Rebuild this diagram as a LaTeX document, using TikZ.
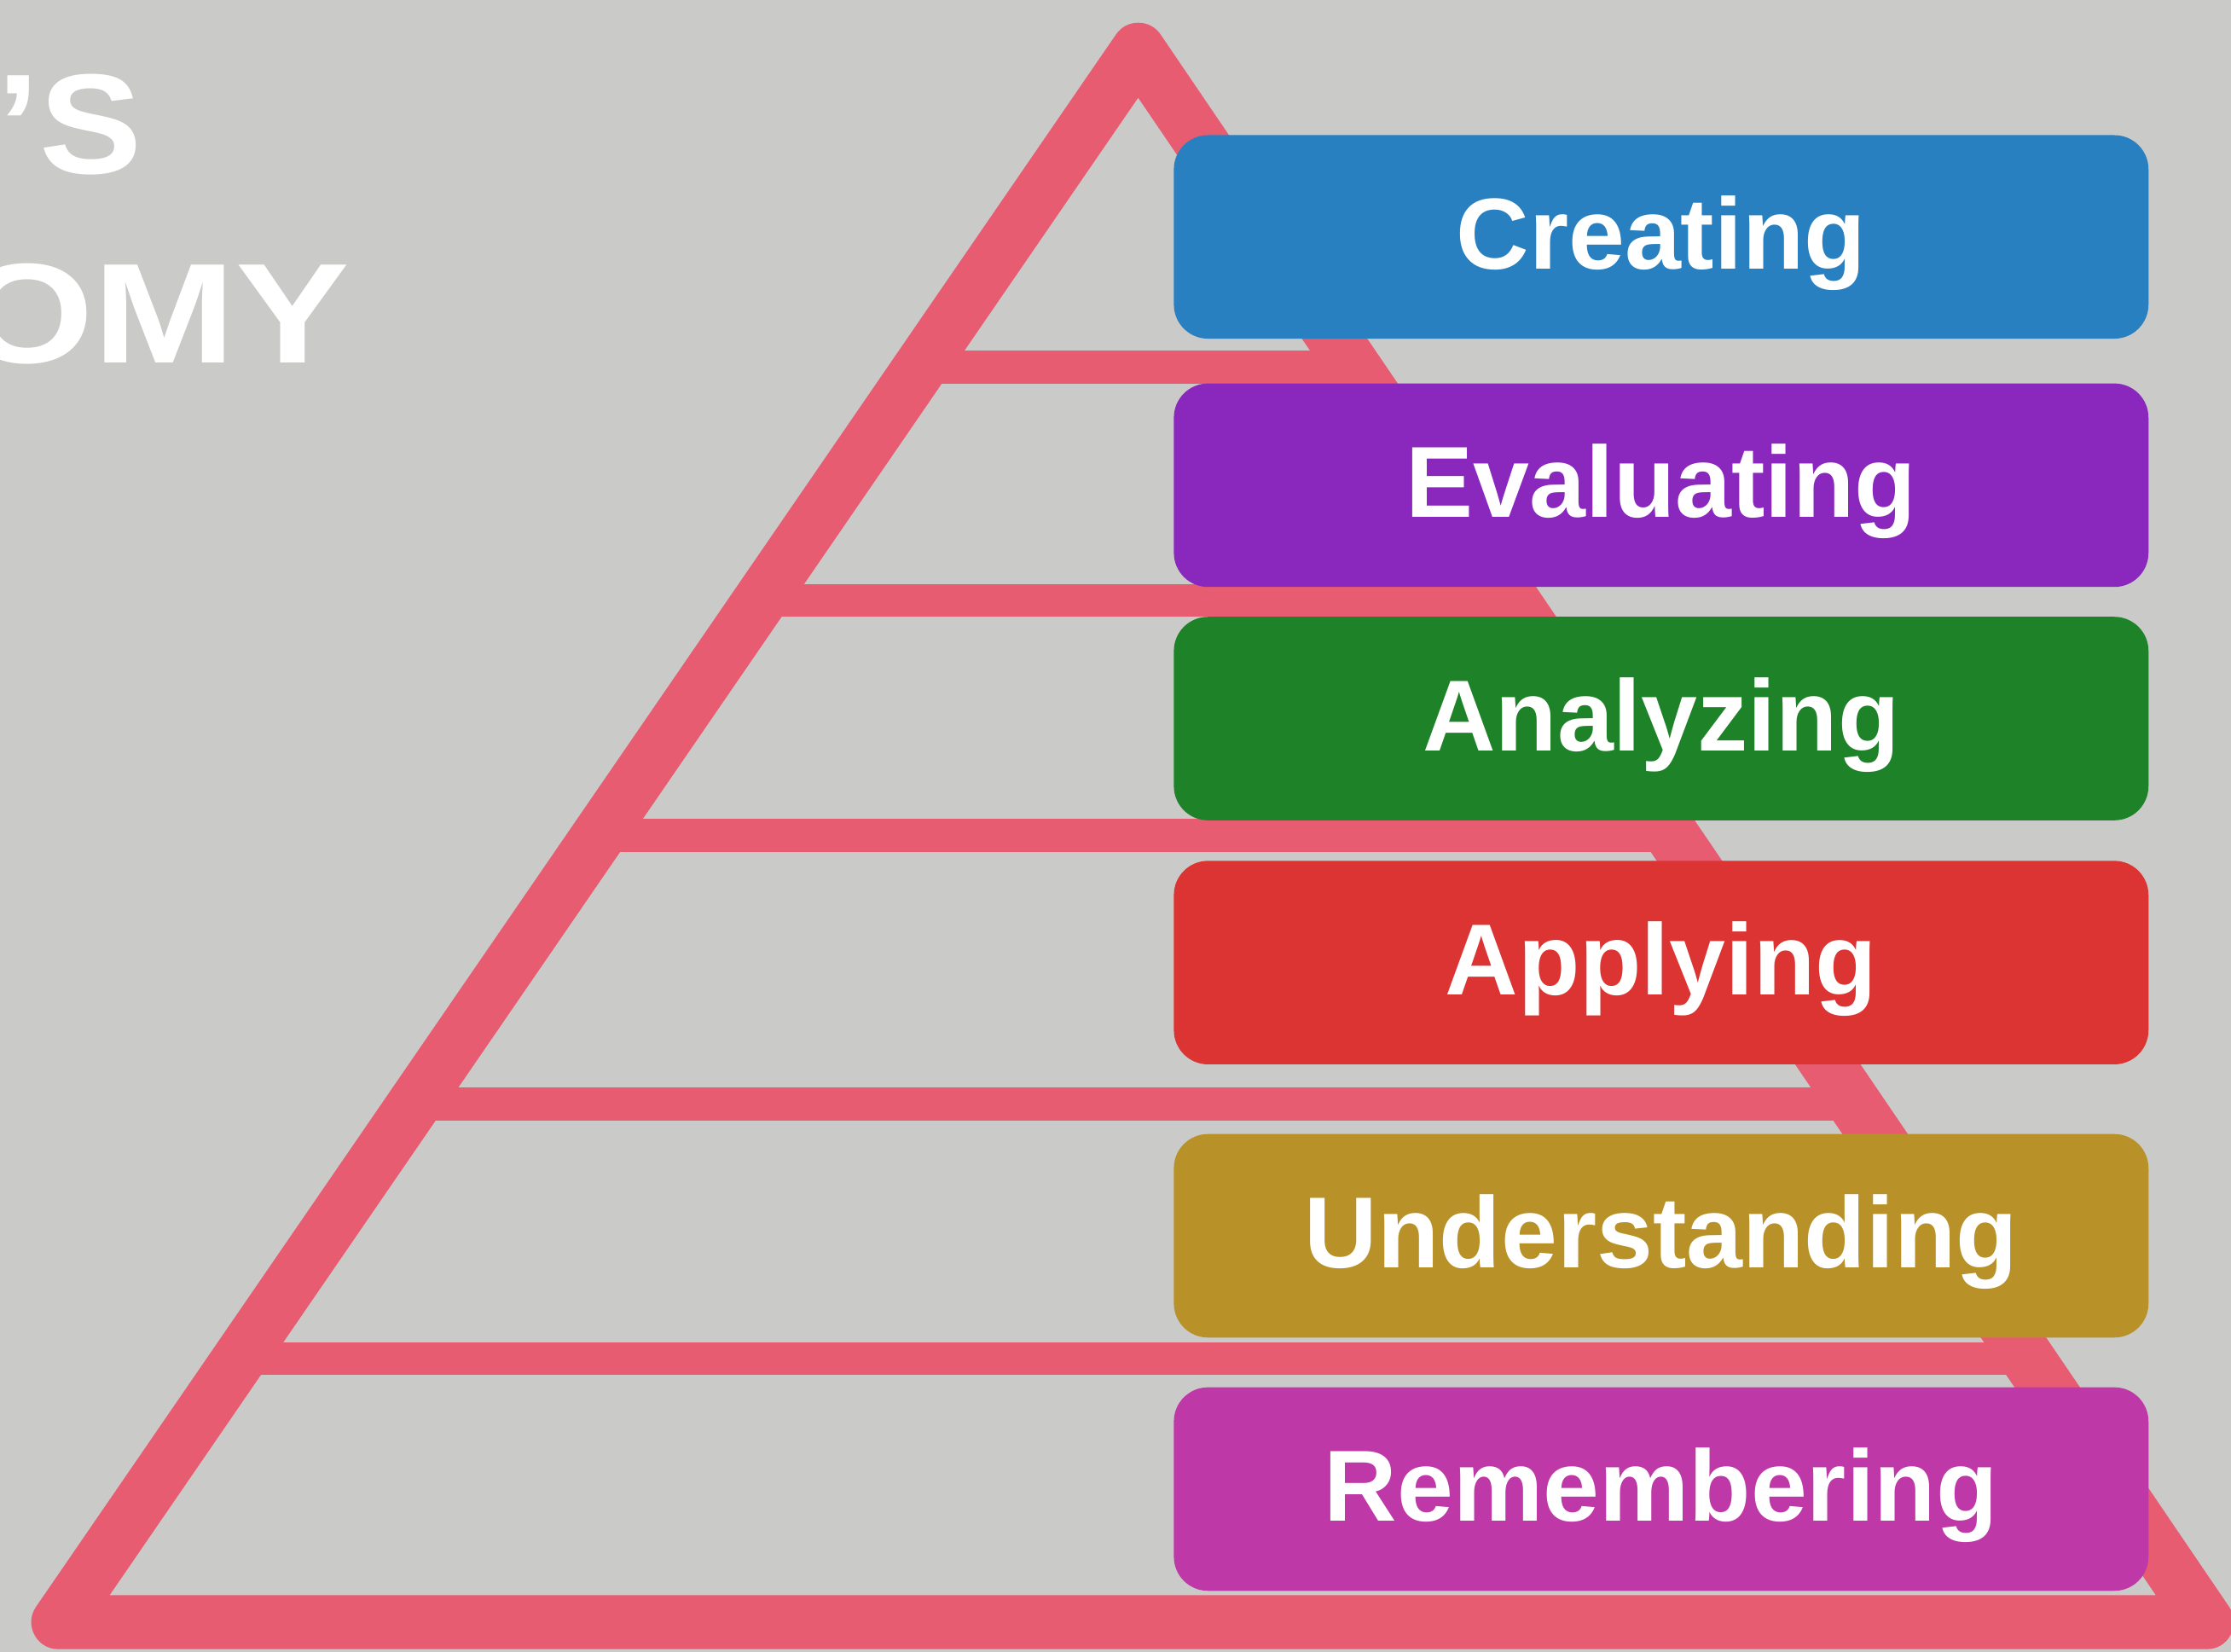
\documentclass[tikz,border=0pt]{standalone}
\usepackage{fontspec}
\setmainfont{Liberation Sans}
\usetikzlibrary{calc}
\definecolor{bgc}{RGB}{202,202,200}
\definecolor{pyr}{RGB}{232,92,114}
\definecolor{cCre}{RGB}{40,128,192}
\definecolor{cEva}{RGB}{138,40,190}
\definecolor{cAna}{RGB}{30,130,40}
\definecolor{cApp}{RGB}{220,52,50}
\definecolor{cUnd}{RGB}{184,146,40}
\definecolor{cRem}{RGB}{190,56,168}
\tikzset{
  level/.style={rounded corners=24pt, minimum width=685pt, minimum height=143pt,
    inner sep=0pt, text height=51pt, text depth=6pt, text=white,
    font=\fontsize{71}{74}\selectfont\bfseries},
  rim/.style={draw=pyr, line width=38pt, line join=round, line cap=round},
  divider/.style={draw=pyr, line width=23pt},
  title/.style={text=white, inner sep=0pt, font=\fontsize{100}{106}\selectfont\bfseries}
}
\begin{document}
\begin{tikzpicture}[x=1pt,y=-1pt]
\fill[bgc] (0,0) rectangle (1568,1161);
\useasboundingbox (0,0) rectangle (1568,1161);
\node[title, anchor=base east] (t1) at (100,122) {\scalebox{1.08}[1]{’S}};
\node[title, anchor=base east] (t2) at (246,255) {\scalebox{1.2}[1]{OMY}};
\coordinate (apex) at (800,35);
\coordinate (bl) at (41,1140);
\coordinate (br) at (1551,1140);
\foreach \y/\n in {258/1,422/2,587/3,776/4,955/5}{
  \pgfmathsetmacro{\t}{(\y-35)/1105}
  \coordinate (l\n) at ($(apex)!\t!(bl)$);
  \coordinate (r\n) at ($(apex)!\t!(br)$);
  \draw[divider] (l\n) -- (r\n);
}
\draw[rim] (apex) -- (bl) -- (br) -- cycle;
\node[level, fill=cCre] (cre) at (1167.5,166.5) {Creating};
\node[level, fill=cEva] (eva) at (1167.5,341) {Evaluating};
\node[level, fill=cAna] (ana) at (1167.5,505) {Analyzing};
\node[level, fill=cApp] (app) at (1167.5,676.5) {Applying};
\node[level, fill=cUnd] (und) at (1167.5,868.5) {Understanding};
\node[level, fill=cRem] (rem) at (1167.5,1046.5) {Remembering};
\end{tikzpicture}
\end{document}
